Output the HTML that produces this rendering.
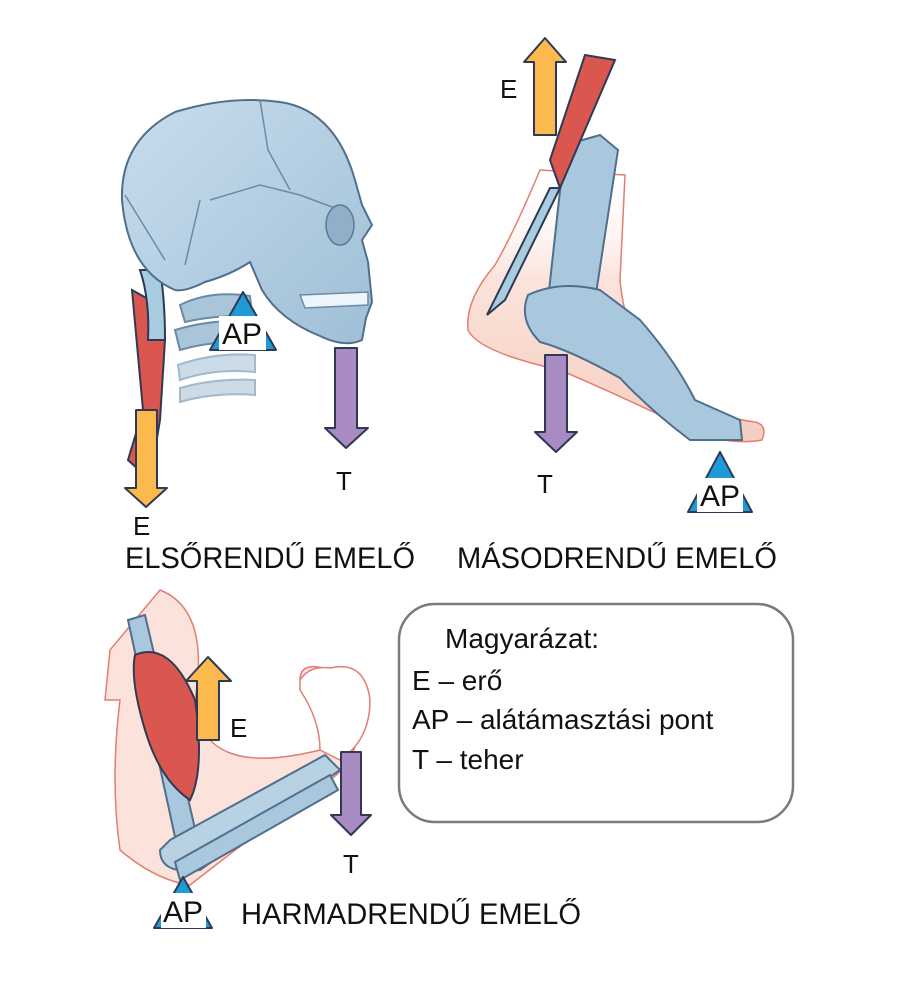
<!DOCTYPE html>
<html><head><meta charset="utf-8"><style>
html,body{margin:0;padding:0;background:#fff;}
svg{display:block;}
text{font-family:"Liberation Sans",sans-serif;fill:#111;}
</style></head><body>
<svg width="913" height="990" viewBox="0 0 913 990" xmlns="http://www.w3.org/2000/svg">
<defs>
<linearGradient id="bone" x1="0" y1="0" x2="1" y2="1"><stop offset="0" stop-color="#c9dded"/><stop offset="1" stop-color="#9fbfd6"/></linearGradient>
<linearGradient id="skin" x1="0" y1="0" x2="0" y2="1"><stop offset="0" stop-color="#fff" stop-opacity="0"/><stop offset="0.4" stop-color="#fbe3dc"/><stop offset="1" stop-color="#f6cdbf"/></linearGradient>
</defs>

<!-- ===== Skull ===== -->
<path d="M150 480 L160 420 L165 340 L150 300 L132 290 L143 410 L128 460 Z" fill="#d9574f" stroke="#2e3a55" stroke-width="2"/>
<path d="M140 270 Q150 300 148 340 L165 340 Q165 300 160 270 Z" fill="#a9cde0" stroke="#2e3a55" stroke-width="2"/>
<g fill="#a9c5da" stroke="#6a8aa6" stroke-width="2">
<path d="M180 305 Q210 290 250 296 L252 316 Q215 315 185 322 Z"/>
<path d="M175 330 Q215 318 255 322 L255 342 Q215 340 180 350 Z"/>
<path d="M178 365 Q215 352 255 355 L255 372 Q215 368 180 380 Z" opacity="0.6"/>
<path d="M180 388 Q215 378 255 380 L255 395 Q215 392 180 402 Z" opacity="0.6"/>
</g>
<path d="M175 290 Q128 270 122 200 Q120 140 175 112 Q230 95 280 102 Q335 110 355 180 L362 205 L372 225 L362 240 L368 262 L372 302 L366 318 L362 340 Q345 348 320 336 Q280 320 262 290 L250 262 Q230 275 205 282 Q185 292 175 290 Z" fill="url(#bone)" stroke="#4f6f8c" stroke-width="2"/>
<path d="M300 295 L368 292 L368 305 L305 308 Z" fill="#eef5fa" stroke="#6a8aa6" stroke-width="1.5"/>
<path d="M260 100 L268 150 L290 190 M210 200 L260 185 L300 195 L340 210 M125 195 L165 260 M200 200 L185 265" fill="none" stroke="#6a8aa6" stroke-width="1.5"/>
<ellipse cx="340" cy="225" rx="14" ry="20" fill="#8fb0c8" stroke="#5a7a96" stroke-width="1.5"/>

<!-- AP 1 -->
<path d="M243 292 L210 350 L276 350 Z" fill="#1f9ad6" stroke="#2e3a55" stroke-width="2" stroke-linejoin="round"/>
<rect x="219" y="316" width="47" height="34" fill="#fff"/>
<text x="242" y="344" font-size="30" text-anchor="middle">AP</text>

<!-- E arrow 1 -->
<path d="M136 410 L157 410 L157 488 L167 488 L146 507 L125 488 L136 488 Z" fill="#fcb94e" stroke="#2e3a55" stroke-width="2" stroke-linejoin="round"/>
<text x="133" y="535" font-size="26">E</text>
<!-- T arrow 1 -->
<path d="M335 348 L357 348 L357 428 L368 428 L346 448 L325 428 L335 428 Z" fill="#a98bc4" stroke="#2e3a55" stroke-width="2" stroke-linejoin="round"/>
<text x="336" y="490" font-size="26">T</text>

<text x="125" y="568" font-size="30" textLength="290" lengthAdjust="spacingAndGlyphs">ELSŐRENDŰ EMELŐ</text>

<!-- ===== Foot ===== -->
<path d="M540 170 Q515 230 495 265 Q465 300 468 330 Q478 352 560 370 Q630 400 690 430 Q730 446 762 440 Q768 425 755 422 Q700 415 665 385 Q625 340 620 280 L625 175 Z" fill="url(#skin)" stroke="#e27e72" stroke-width="1.5"/>
<path d="M565 145 L600 135 L618 150 L595 300 L548 300 Z" fill="#a9c8dd" stroke="#4f6f8c" stroke-width="2"/>
<path d="M528 295 Q560 280 600 290 L640 320 Q675 360 695 400 L740 420 L742 440 L690 440 Q650 410 620 378 Q570 350 540 342 Q518 320 528 295 Z" fill="#a9c8dd" stroke="#4f6f8c" stroke-width="2"/>
<path d="M550 160 L585 55 L615 60 L560 188 Z" fill="#d9574f" stroke="#2e3a55" stroke-width="2"/>
<path d="M550 188 L560 188 L505 300 L487 315 Z" fill="#a9cde0" stroke="#2e3a55" stroke-width="2"/>
<path d="M545 38 L566 62 L556 62 L556 135 L534 135 L534 62 L524 62 Z" fill="#fcb94e" stroke="#2e3a55" stroke-width="2" stroke-linejoin="round"/>
<text x="500" y="98" font-size="26">E</text>
<path d="M545 355 L567 355 L567 432 L577 432 L556 452 L535 432 L545 432 Z" fill="#a98bc4" stroke="#2e3a55" stroke-width="2" stroke-linejoin="round"/>
<text x="537" y="493" font-size="26">T</text>
<path d="M720 452 L688 512 L752 512 Z" fill="#1f9ad6" stroke="#2e3a55" stroke-width="2" stroke-linejoin="round"/>
<rect x="697" y="478" width="46" height="34" fill="#fff"/>
<text x="720" y="506" font-size="30" text-anchor="middle">AP</text>
<text x="457" y="568" font-size="30" textLength="320" lengthAdjust="spacingAndGlyphs">MÁSODRENDŰ EMELŐ</text>

<!-- ===== Arm ===== -->
<path d="M160 590 Q210 610 195 700 Q200 780 320 750 Q340 700 330 670 Q300 660 300 680 Q330 720 360 690 L365 700 Q360 760 330 780 Q260 830 190 885 Q155 880 120 850 Q110 780 120 700 L105 700 L110 650 Z" fill="#fbe3dc" stroke="#e27e72" stroke-width="1.5"/>
<path d="M300 680 Q310 665 330 668 Q365 660 370 700 Q370 740 340 760 L320 750 Q320 720 300 690 Z" fill="#fff" stroke="#e27e72" stroke-width="1.5"/>
<path d="M128 620 L145 615 L200 850 L180 860 Z" fill="#a9c8dd" stroke="#4f6f8c" stroke-width="2"/>
<path d="M170 840 L325 755 L340 770 L200 870 Q160 875 160 850 Z" fill="#b8d2e4" stroke="#4f6f8c" stroke-width="2"/>
<path d="M180 880 L338 790 L330 775 L175 862 Z" fill="#a9c8dd" stroke="#4f6f8c" stroke-width="2"/>
<path d="M135 655 Q170 640 195 700 Q205 770 190 800 Q160 780 145 730 Q130 680 135 655 Z" fill="#d9574f" stroke="#2e3a55" stroke-width="2"/>
<path d="M208 657 L231 681 L219 681 L219 740 L197 740 L197 681 L186 681 Z" fill="#fcb94e" stroke="#2e3a55" stroke-width="2" stroke-linejoin="round"/>
<text x="230" y="737" font-size="26">E</text>
<path d="M341 752 L361 752 L361 815 L371 815 L351 835 L331 815 L341 815 Z" fill="#a98bc4" stroke="#2e3a55" stroke-width="2" stroke-linejoin="round"/>
<text x="343" y="873" font-size="26">T</text>
<path d="M183 877 L154 928 L212 928 Z" fill="#1f9ad6" stroke="#2e3a55" stroke-width="2" stroke-linejoin="round"/>
<rect x="161" y="893" width="45" height="35" fill="#fff"/>
<text x="183" y="922" font-size="30" text-anchor="middle">AP</text>
<text x="241" y="924" font-size="30" textLength="340" lengthAdjust="spacingAndGlyphs">HARMADRENDŰ EMELŐ</text>

<!-- Legend -->
<rect x="399" y="604" width="394" height="218" rx="36" fill="#fff" stroke="#7a7a7a" stroke-width="2.5"/>
<text x="445" y="648" font-size="28">Magyarázat:</text>
<text x="412" y="690" font-size="28">E – erő</text>
<text x="412" y="729" font-size="28">AP – alátámasztási pont</text>
<text x="412" y="769" font-size="28">T – teher</text>
</svg>
</body></html>
